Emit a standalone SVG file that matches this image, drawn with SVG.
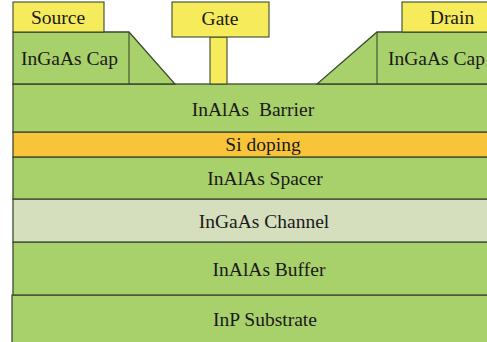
<svg xmlns="http://www.w3.org/2000/svg" width="487" height="342" viewBox="0 0 487 342">
  <style>
    .layer { fill: #a8d06b; stroke: #3d4a30; stroke-width: 1.3; }
    .metal { fill: #f5eb5b; stroke: #3d4a30; stroke-width: 1.1; }
    .dope { fill: #f8c43a; stroke: #3d4a30; stroke-width: 1.3; }
    .chan { fill: #d5dfbd; stroke: #3d4a30; stroke-width: 1.3; }
    text { font-family: 'Liberation Serif', 'DejaVu Serif', serif; font-size: 19.5px; fill: #1a1a1a; }
    .mid { text-anchor: middle; }
  </style>
  <rect x="0" y="0" width="487" height="342" fill="#ffffff"/>

  <!-- epitaxial stack, bottom to top -->
  <g id="substrate">
    <rect class="layer" x="12" y="295" width="480" height="52"/>
    <text class="mid" x="265" y="326">InP Substrate</text>
  </g>
  <g id="buffer">
    <rect class="layer" x="13" y="242" width="480" height="53"/>
    <text class="mid" x="269" y="276">InAlAs Buffer</text>
  </g>
  <g id="channel">
    <rect class="chan" x="13" y="199" width="480" height="43"/>
    <text class="mid" x="264" y="228">InGaAs Channel</text>
  </g>
  <g id="spacer">
    <rect class="layer" x="13" y="157" width="480" height="42"/>
    <text class="mid" x="265" y="185">InAlAs Spacer</text>
  </g>
  <g id="si-doping">
    <rect class="dope" x="13" y="132" width="480" height="25"/>
    <text class="mid" x="263" y="151">Si doping</text>
  </g>
  <g id="barrier">
    <rect class="layer" x="13" y="84" width="480" height="48"/>
    <text class="mid" x="253" y="116" xml:space="preserve">InAlAs  Barrier</text>
  </g>

  <!-- recessed cap regions -->
  <g id="cap-left">
    <polygon class="layer" points="13,32 129,32 175,84 13,84"/>
    <line x1="129" y1="32" x2="129" y2="84" stroke="#3d4a30" stroke-width="1.1"/>
    <text x="21" y="65">InGaAs Cap</text>
  </g>
  <g id="cap-right">
    <polygon class="layer" points="377,32 493,32 493,84 317,84"/>
    <line x1="377" y1="32" x2="377" y2="84" stroke="#3d4a30" stroke-width="1.1"/>
    <text x="388" y="65">InGaAs Cap</text>
  </g>

  <!-- contacts -->
  <g id="source">
    <rect class="metal" x="13" y="2" width="91" height="30"/>
    <text class="mid" x="58" y="24">Source</text>
  </g>
  <g id="gate">
    <rect class="metal" x="210" y="37" width="17" height="47"/>
    <rect class="metal" x="172" y="2" width="97" height="35"/>
    <text class="mid" x="220" y="25">Gate</text>
  </g>
  <g id="drain">
    <rect class="metal" x="402" y="2" width="91" height="30"/>
    <text class="mid" x="452" y="24">Drain</text>
  </g>
</svg>
